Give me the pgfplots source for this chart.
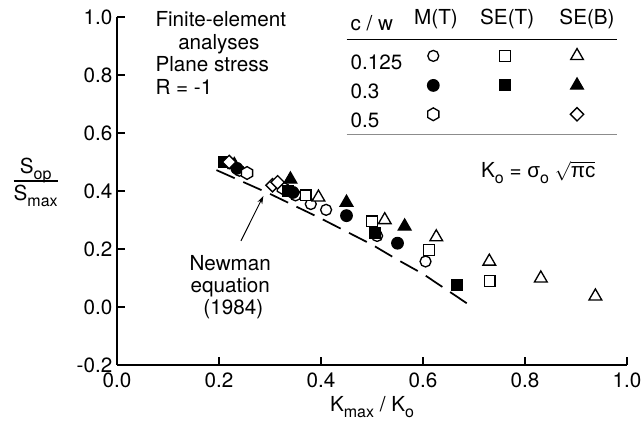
\documentclass[border=0pt]{standalone}
\usepackage{fontspec}
\usepackage{amsmath}
\setmainfont{TeX Gyre Heros}
\newfontfamily\greekfont{Liberation Sans}
\usepackage{pgfplots}
\pgfplotsset{compat=1.18}
\usetikzlibrary{arrows.meta}

\newcommand\cf{\fontsize{15.5}{18}\selectfont}
\newcommand\sub[1]{\raisebox{-0.28em}{\fontsize{12}{12}\selectfont #1}}

% open hexagon and square-on-point marks
\pgfdeclareplotmark{hexagon}{%
  \pgfpathmoveto{\pgfqpointpolar{90}{\pgfplotmarksize}}%
  \pgfpathlineto{\pgfqpointpolar{150}{\pgfplotmarksize}}%
  \pgfpathlineto{\pgfqpointpolar{210}{\pgfplotmarksize}}%
  \pgfpathlineto{\pgfqpointpolar{270}{\pgfplotmarksize}}%
  \pgfpathlineto{\pgfqpointpolar{330}{\pgfplotmarksize}}%
  \pgfpathlineto{\pgfqpointpolar{30}{\pgfplotmarksize}}%
  \pgfpathclose
  \pgfusepathqfillstroke}
\pgfdeclareplotmark{rhomb}{%
  \pgfpathmoveto{\pgfqpoint{0pt}{\pgfplotmarksize}}%
  \pgfpathlineto{\pgfqpoint{\pgfplotmarksize}{0pt}}%
  \pgfpathlineto{\pgfqpoint{0pt}{-\pgfplotmarksize}}%
  \pgfpathlineto{\pgfqpoint{-\pgfplotmarksize}{0pt}}%
  \pgfpathclose
  \pgfusepathqfillstroke}

\tikzset{
  openc/.style={mark=*, mark size=4.1pt, mark options={solid, fill=white, line width=1pt}},
  fillc/.style={mark=*, mark size=4.3pt, mark options={solid, fill=black, line width=1pt}},
  hexa/.style={mark=hexagon, mark size=4.8pt, mark options={solid, fill=white, line width=1pt}},
  opens/.style={mark=square*, mark size=4.0pt, mark options={solid, fill=white, line width=1pt}},
  fills/.style={mark=square*, mark size=4.0pt, mark options={solid, fill=black, line width=1pt}},
  opent/.style={mark=triangle*, mark size=5.5pt, mark options={solid, fill=white, line width=1pt}},
  fillt/.style={mark=triangle*, mark size=5.5pt, mark options={solid, fill=black, line width=1pt}},
  opend/.style={mark=rhomb, mark size=5.0pt, mark options={solid, fill=white, line width=1pt}},
}
\pgfplotsset{
  hdr/.style 2 args={legend image code/.code={\node[inner sep=0pt, anchor=base] at (#2,0) {#1};\path (0,-14pt) (51.5pt,0);}},
  mk/.style={legend image code/.code={\path[#1] plot coordinates {(22pt,5.4pt)};\path (0,0) (51.5pt,0);}},
  blank/.style={legend image code/.code={\path (0,0) (51.5pt,0);}},
}

\begin{document}
\begin{tikzpicture}
\begin{axis}[
  name=ax,
  scale only axis,
  width=382.5pt, height=261pt,
  xmin=0, xmax=1, ymin=-0.2, ymax=1,
  axis lines=left,
  axis line style={-, line width=1.1pt},
  tick align=inside,
  major tick length=6pt,
  tick style={line width=1.1pt, black},
  xtick={0,0.2,0.4,0.6,0.8,1},
  ytick={-0.2,0,0.2,0.4,0.6,0.8,1},
  tick label style={font=\cf},
  xticklabel style={yshift=-2pt},
  /pgf/number format/fixed,
  /pgf/number format/fixed zerofill,
  /pgf/number format/precision=1,
  /pgf/number format/assume math mode=true,
  xlabel={K\sub{max} / K\sub{o}},
  xlabel style={font=\cf, yshift=0pt},
  clip=false,
  legend columns=4,
  legend cell align=left,
  legend style={draw=none, fill=none, inner sep=0pt, font=\cf,
    at={(axis cs:0.455,1.029)}, anchor=north west,
    row sep=4pt, column sep=0pt,
    nodes={inner sep=1pt}},
]
% key laid out as a grid
\addlegendimage{empty legend}\addlegendentry{c / w}
\addlegendimage{hdr={M(T)}{24pt}}\addlegendentry{}
\addlegendimage{hdr={SE(T)}{23.5pt}}\addlegendentry{}
\addlegendimage{hdr={SE(B)}{29.5pt}}\addlegendentry{}
\addlegendimage{empty legend}\addlegendentry{0.125}
\addlegendimage{mk={openc}}\addlegendentry{}
\addlegendimage{mk={opens}}\addlegendentry{}
\addlegendimage{mk={opent}}\addlegendentry{}
\addlegendimage{empty legend}\addlegendentry{0.3}
\addlegendimage{mk={fillc}}\addlegendentry{}
\addlegendimage{mk={fills}}\addlegendentry{}
\addlegendimage{mk={fillt}}\addlegendentry{}
\addlegendimage{empty legend}\addlegendentry{0.5}
\addlegendimage{mk={hexa}}\addlegendentry{}
\addlegendimage{blank}\addlegendentry{}
\addlegendimage{mk={opend}}\addlegendentry{}

% Newman equation (1984)
\addplot[forget plot, no marks, line width=1.3pt, dash pattern=on 15pt off 7pt] coordinates {
  (0.195,0.472) (0.30,0.39) (0.40,0.305) (0.50,0.215) (0.55,0.163) (0.60,0.114) (0.69,0.008)};

% M(T)
\addplot[forget plot, only marks, openc] coordinates {
  (0.240,0.470) (0.350,0.385) (0.380,0.355) (0.410,0.335) (0.510,0.245) (0.605,0.157)};
\addplot[forget plot, only marks, fillc] coordinates {
  (0.235,0.478) (0.345,0.395) (0.450,0.315) (0.550,0.220)};
\addplot[forget plot, only marks, hexa] coordinates {
  (0.255,0.462) (0.325,0.410)};
% SE(T)
\addplot[forget plot, only marks, opens] coordinates {
  (0.370,0.385) (0.500,0.295) (0.612,0.197) (0.731,0.090)};
\addplot[forget plot, only marks, fills] coordinates {
  (0.210,0.500) (0.335,0.400) (0.505,0.255) (0.666,0.075)};
% SE(B)
\addplot[forget plot, only marks, opent] coordinates {
  (0.395,0.378) (0.525,0.300) (0.626,0.241) (0.730,0.157) (0.831,0.099) (0.938,0.037)};
\addplot[forget plot, only marks, fillt] coordinates {
  (0.230,0.490) (0.340,0.440) (0.450,0.360) (0.564,0.278)};
\addplot[forget plot, only marks, opend] coordinates {
  (0.220,0.500) (0.305,0.420) (0.315,0.430)};

% rules of the key
\draw[line width=0.6pt] (axis cs:0.45,0.924) -- (axis cs:0.98,0.924);
\draw[line width=0.5pt, black!45] (axis cs:0.45,0.597) -- (axis cs:0.98,0.597);

% text
\node[anchor=north west, inner sep=0pt, align=left, font=\fontsize{15.5}{17}\selectfont]
  at (axis cs:0.075,1.02) {Finite-element\\\hspace*{1.1em}analyses\\Plane stress\\R = -1};
\node[align=center, inner sep=0pt, font=\fontsize{15.5}{16.5}\selectfont]
  at (axis cs:0.222,0.069) {Newman\\equation\\\hspace*{0.3em}(1984)};
\draw[line width=0.7pt, -{Stealth[length=6pt,width=4pt]}] (axis cs:0.243,0.228) -- (axis cs:0.287,0.383);
\node[font=\cf] at (axis cs:0.826,0.465)
  {K\sub{o} = {\greekfont σ}\sub{o} $\sqrt{\text{\greekfont πc}}$};
\node[font=\cf] at (axis cs:0,0.43) [xshift=-61pt]
  {\setlength\arrayrulewidth{1pt}\begin{tabular}{@{}c@{}}S\sub{op}\\[-2pt]\hline\rule{0pt}{14pt}S\sub{max}\end{tabular}};
\end{axis}
\pgfresetboundingbox
\path ([shift={(-87.75pt,-48.75pt)}]ax.south west) rectangle ([shift={(11.25pt,12.75pt)}]ax.north east);
\end{tikzpicture}
\end{document}
